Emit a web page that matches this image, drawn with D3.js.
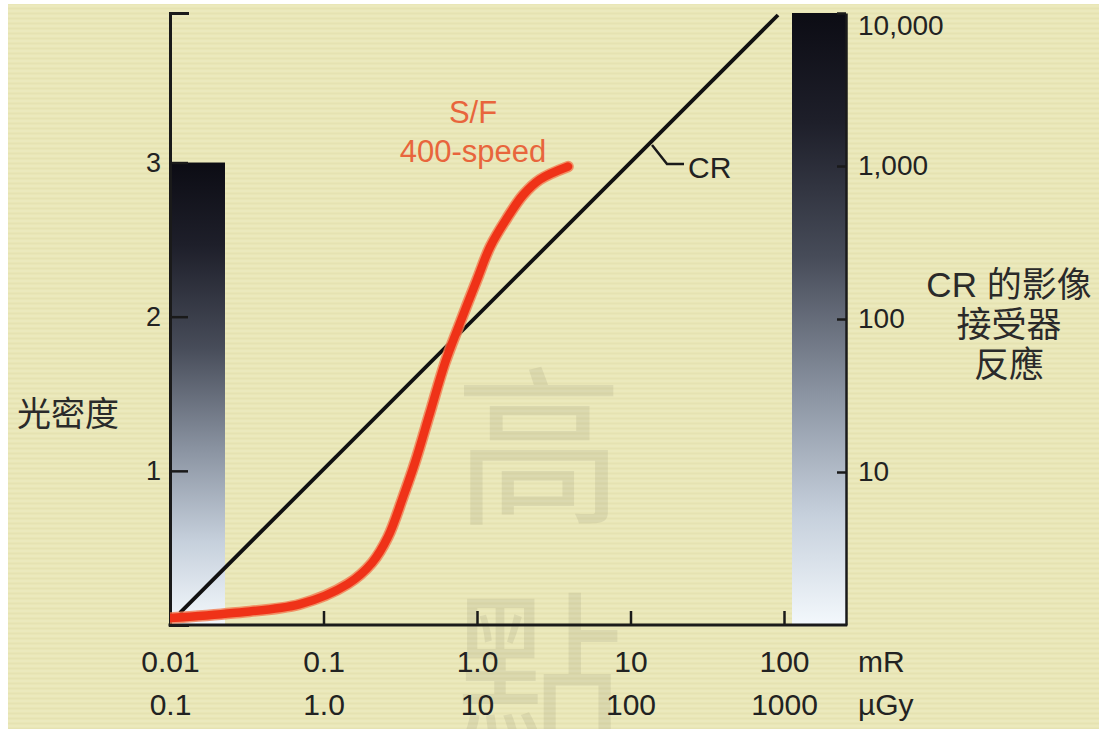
<!DOCTYPE html>
<html>
<head>
<meta charset="utf-8">
<script src="https://cdn.jsdelivr.net/npm/d3@7"></script>
<style>
  html, body { margin: 0; padding: 0; background: #ffffff; }
  svg { display: block; }
  text { font-family: "Liberation Sans", Arial, "Noto Sans CJK TC", sans-serif; }
</style>
</head>
<body>
<svg id="chart" width="1104" height="729"></svg>
<script>
// ---------------- data ----------------
const exposureTicksMR = [0.01, 0.1, 1, 10, 100];
const mRLabels = ["0.01", "0.1", "1.0", "10", "100"];
const uGyLabels = ["0.1", "1.0", "10", "100", "1000"];
const odTicks = [1, 2, 3];
const odTickLabels = ["1", "2", "3"];
const crTicks = [10, 100, 1000, 10000];
const crTickLabels = ["10", "100", "1,000", "10,000"];
const unitLabels = ["mR", "µGy"];

// S/F 400-speed characteristic curve: exposure (mR) vs optical density
const sfExposure = [0.01, 0.0257, 0.0703, 0.144, 0.207, 0.263, 0.330, 0.394, 0.494, 0.619, 0.775, 1.0, 1.22, 1.57, 2.0, 2.57, 3.92];
const sfDensity  = [0.045, 0.078, 0.135, 0.266, 0.403, 0.571, 0.831, 1.052, 1.377, 1.701, 1.959, 2.24, 2.455, 2.64, 2.79, 2.89, 2.974];

// CR image receptor response: exposure (mR) vs relative response
const crExposure = [0.0116, 91.4];
const crResponse = [1.2, 9700];

// density bar (optical density 0 -> 3) and CR response bar (1 -> 10,000)
const odBar = [0, 3];
const crBar = [1, 10000];

const sfLabel = ["S/F", "400-speed"];
const crLabel = "CR";
const yLeftTitle = "光密度";
const yRightTitle = ["CR 的影像", "接受器", "反應"];
const watermark = ["高", "點"];

// ---------------- layout ----------------
const svg = d3.select("#chart");
const W = 1104, H = 729;

const x = d3.scaleLog().domain([0.01, 100]).range([170, 784]);
const yOD = d3.scaleLinear().domain([0, 3.97]).range([625, 13]);
const yCR = d3.scaleLog().domain([1, 10000]).range([625, 13]);

const leftAxisX = 170;
const rightAxisX = 846;
const barW = 55;

// paper background
svg.append("rect").attr("x", 8).attr("y", 4).attr("width", 1091).attr("height", 725).attr("fill", "#e9e6b6");

// faint horizontal texture
const defs = svg.append("defs");
const pat = defs.append("pattern").attr("id", "tex").attr("patternUnits", "userSpaceOnUse")
  .attr("width", 40).attr("height", 5);
pat.append("rect").attr("x", 0).attr("y", 0).attr("width", 40).attr("height", 2).attr("fill", "#ffffff").attr("opacity", 0.10);
pat.append("rect").attr("x", 0).attr("y", 3).attr("width", 40).attr("height", 1).attr("fill", "#c9c596").attr("opacity", 0.12);
svg.append("rect").attr("x", 8).attr("y", 4).attr("width", 1091).attr("height", 725).attr("fill", "url(#tex)");

// gradient for bars
const grad = defs.append("linearGradient").attr("id", "barGrad").attr("x1", 0).attr("y1", 0).attr("x2", 0).attr("y2", 1);
[[0, "#0c0c14"], [0.18, "#1e1f2a"], [0.4, "#474c59"], [0.62, "#8a93a1"], [0.82, "#c6d0dc"], [1, "#f3f8fc"]]
  .forEach(([o, c]) => grad.append("stop").attr("offset", o).attr("stop-color", c));

// watermark
svg.append("g").selectAll("text").data(watermark).join("text")
  .attr("x", 539)
  .attr("y", (d, i) => [437, 662][i])
  .attr("text-anchor", "middle")
  .attr("dominant-baseline", "central")
  .style("font-family", "'Noto Sans CJK TC', sans-serif")
  .style("font-size", "170px")
  .attr("fill", "#6f6a55")
  .attr("opacity", 0.12)
  .text(d => d);

// left density bar
svg.append("rect")
  .attr("x", leftAxisX).attr("y", yOD(odBar[1]))
  .attr("width", barW).attr("height", yOD(odBar[0]) - yOD(odBar[1]))
  .attr("fill", "url(#barGrad)");

// right CR bar
svg.append("rect")
  .attr("x", rightAxisX - barW + 1).attr("y", yCR(crBar[1]))
  .attr("width", barW - 1).attr("height", yCR(crBar[0]) - yCR(crBar[1]))
  .attr("fill", "url(#barGrad)");

// left axis
const leftAxis = d3.axisLeft(yOD).tickValues(odTicks).tickSizeInner(-18).tickSizeOuter(-19).tickPadding(9)
  .tickFormat((d, i) => odTickLabels[i]);
const gL = svg.append("g").attr("transform", `translate(${leftAxisX},0)`).call(leftAxis);
gL.select(".domain").attr("stroke", "#1a1a1a").attr("stroke-width", 3);
gL.selectAll(".tick line").attr("stroke", "#1a1a1a").attr("stroke-width", 2.5);
gL.selectAll(".tick text").attr("fill", "#222").style("font-size", "27px").style("font-family", "'Liberation Sans', Arial, sans-serif");

// right axis
const rightAxis = d3.axisRight(yCR).tickValues(crTicks).tickSizeInner(-9).tickSizeOuter(0).tickPadding(12)
  .tickFormat((d, i) => crTickLabels[i]);
const gR = svg.append("g").attr("transform", `translate(${rightAxisX},0)`).call(rightAxis);
gR.select(".domain").attr("stroke", "#1a1a1a").attr("stroke-width", 2.5);
gR.selectAll(".tick line").attr("stroke", "#1a1a1a").attr("stroke-width", 2.5);
gR.selectAll(".tick text").attr("fill", "#222").style("font-size", "28px").style("font-family", "'Liberation Sans', Arial, sans-serif");
gR.selectAll(".tick").filter(d => d === crBar[1]).select("text").attr("dy", "0.78em");

// bottom axis (mR)
const bottomAxis = d3.axisBottom(x).tickValues(exposureTicksMR).tickSizeInner(-14).tickSizeOuter(0).tickPadding(26)
  .tickFormat((d, i) => mRLabels[i]);
const gB = svg.append("g").attr("transform", `translate(0,${yOD(0)})`).call(bottomAxis);
gB.select(".domain").remove();
gB.selectAll(".tick line").attr("stroke", "#1a1a1a").attr("stroke-width", 2.5);
gB.selectAll(".tick text").attr("fill", "#222").style("font-size", "30px").style("font-family", "'Liberation Sans', Arial, sans-serif");
gB.selectAll(".tick").filter(d => d === 0.01).select("line").remove();

// baseline through to right bar edge
svg.append("line")
  .attr("x1", x.range()[0] - 1.5).attr("x2", rightAxisX + 1.2)
  .attr("y1", yOD(0)).attr("y2", yOD(0))
  .attr("stroke", "#1a1a1a").attr("stroke-width", 3);

// second label row (µGy)
const bottomAxis2 = d3.axisBottom(x).tickValues(exposureTicksMR).tickSize(0).tickPadding(69)
  .tickFormat((d, i) => uGyLabels[i]);
const gB2 = svg.append("g").attr("transform", `translate(0,${yOD(0)})`).call(bottomAxis2);
gB2.select(".domain").remove();
gB2.selectAll(".tick text").attr("fill", "#222").style("font-size", "30px").style("font-family", "'Liberation Sans', Arial, sans-serif");

// unit labels
svg.append("g").selectAll("text").data(unitLabels).join("text")
  .attr("x", 858)
  .attr("y", (d, i) => [672, 715][i])
  .attr("fill", "#222")
  .style("font-size", "30px")
  .text(d => d);

// CR line
const crPts = crExposure.map((e, i) => [x(e), yCR(crResponse[i])]);
svg.append("path")
  .attr("d", d3.line()(crPts))
  .attr("fill", "none").attr("stroke", "#111").attr("stroke-width", 3.8);

// S/F curve (clipped at the left axis)
defs.append("clipPath").attr("id", "plotClip").append("rect")
  .attr("x", x.range()[0]).attr("y", 0).attr("width", W).attr("height", H);
const sfPts = sfExposure.map((e, i) => [x(e), yOD(sfDensity[i])]);
const sfLine = d3.line().curve(d3.curveCatmullRom.alpha(0.5));
const gSF = svg.append("g").attr("clip-path", "url(#plotClip)");
gSF.append("path").attr("d", sfLine(sfPts))
  .attr("fill", "none").attr("stroke", "#f37a50").attr("stroke-width", 11.5).attr("stroke-linecap", "round").attr("opacity", 0.8);
gSF.append("path").attr("d", sfLine(sfPts))
  .attr("fill", "none").attr("stroke", "#ef3218").attr("stroke-width", 8.5).attr("stroke-linecap", "round");

// S/F label
svg.append("g").selectAll("text").data(sfLabel).join("text")
  .attr("x", 473)
  .attr("y", (d, i) => [123, 162][i])
  .attr("text-anchor", "middle")
  .attr("fill", "#e8653c")
  .style("font-size", "31px")
  .text(d => d);

// CR label with leader
svg.append("path")
  .attr("d", d3.line()([[652, 145], [667, 164], [684, 164]]))
  .attr("fill", "none").attr("stroke", "#1a1a1a").attr("stroke-width", 2.5);
svg.append("text").attr("x", 688).attr("y", 178).attr("fill", "#222").style("font-size", "30px").text(crLabel);

// axis titles
svg.append("text").attr("x", 17).attr("y", 426).attr("fill", "#2a2a2a")
  .style("font-family", "'Noto Sans CJK TC', sans-serif").style("font-size", "34px").text(yLeftTitle);

svg.append("g").selectAll("text").data(yRightTitle).join("text")
  .attr("x", 1009)
  .attr("y", (d, i) => 297 + i * 40)
  .attr("text-anchor", "middle")
  .attr("fill", "#2a2a2a")
  .style("font-family", "'Liberation Sans', 'Noto Sans CJK TC', sans-serif")
  .style("font-size", "35px")
  .text(d => d);
</script>
</body>
</html>
